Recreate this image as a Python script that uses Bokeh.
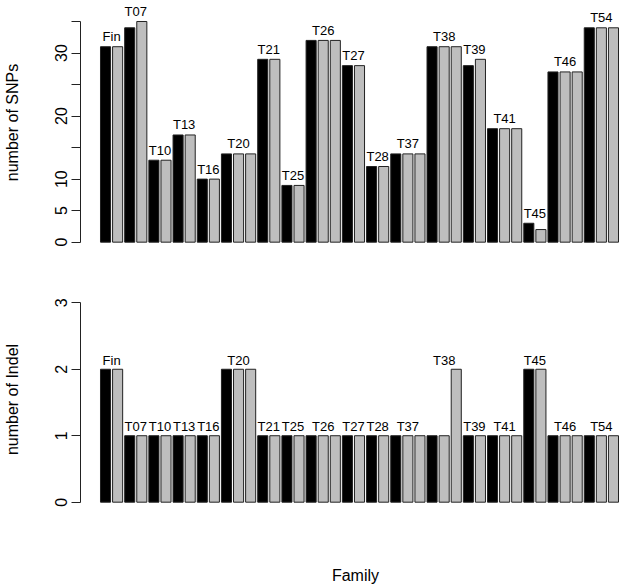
import math
from bokeh.plotting import figure
from bokeh.models import ColumnDataSource, FixedTicker, LinearAxis
from bokeh.layouts import column
from bokeh.embed import file_html
from bokeh.resources import INLINE
from bokeh.core.properties import value

# ---- data -----------------------------------------------------------------
families = ["Fin", "T07", "T10", "T13", "T16", "T20", "T21", "T25", "T26",
            "T27", "T28", "T37", "T38", "T39", "T41", "T45", "T46", "T54"]

snp_counts = [[31, 31], [34, 35], [13, 13], [17, 17], [10, 10], [14, 14, 14],
              [29, 29], [9, 9], [32, 32, 32], [28, 28], [12, 12], [14, 14, 14],
              [31, 31, 31], [28, 29], [18, 18, 18], [3, 2], [27, 27, 27],
              [34, 34, 34]]

indel_counts = [[2, 2], [1, 1], [1, 1], [1, 1], [1, 1], [2, 2, 2],
                [1, 1], [1, 1], [1, 1, 1], [1, 1], [1, 1], [1, 1, 1],
                [1, 1, 2], [1, 1], [1, 1, 1], [2, 2], [1, 1, 1],
                [1, 1, 1]]

snp_ticks = [0, 5, 10, 15, 20, 25, 30, 35]
snp_tick_labels = ["0", "5", "10", "", "20", "", "30", ""]
indel_ticks = [0, 1, 2, 3]
indel_tick_labels = ["0", "1", "2", "3"]

snp_title = "number of SNPs"
indel_title = "number of Indel"
x_title = "Family"

# ---- styling --------------------------------------------------------------
FONT = "Liberation Sans"
BAR_W = 1.0
SPACE = 0.2
BLACK = "#000000"
GREY = "#BEBEBE"
W = 630
X_RANGE = (-1.7845, 52.79)


def bar_tables(counts):
    xs, tops, fills = [], [], []
    lx, ly, lt = [], [], []
    i = 0
    for fam, vals in zip(families, counts):
        start = len(xs)
        for j, v in enumerate(vals):
            xs.append(SPACE + i * (BAR_W + SPACE) + BAR_W / 2)
            tops.append(v)
            fills.append(BLACK if j == 0 else GREY)
            i += 1
        lx.append((xs[start] + xs[-1]) / 2)
        ly.append(max(vals))
        lt.append(fam)
    bars = ColumnDataSource(dict(x=xs, top=tops, fill=fills))
    labels = ColumnDataSource(dict(x=lx, y=ly, text=lt))
    return bars, labels


def panel(counts, ticks, tick_labels, y_range, height, border_bottom,
          y_title, label_gap):
    p = figure(width=W, height=height, x_range=X_RANGE, y_range=y_range,
               output_backend="svg", toolbar_location=None,
               x_axis_location=None, min_border_left=80, min_border_right=0,
               min_border_top=0, min_border_bottom=border_bottom)
    p.outline_line_color = None
    p.grid.visible = False
    p.background_fill_color = "white"
    p.border_fill_color = "white"

    bars, labels = bar_tables(counts)
    p.vbar(x="x", top="top", bottom=0, width=BAR_W, source=bars,
           fill_color="fill", line_color="#222222", line_width=1)
    p.text(x="x", y="y", text="text", source=labels,
           text_font=value(FONT), text_font_size="13px",
           text_align="center", text_baseline="alphabetic",
           y_offset=label_gap, text_color="black")

    ax = p.yaxis[0]
    ax.ticker = FixedTicker(ticks=ticks)
    ax.bounds = (ticks[0], ticks[-1])
    ax.major_label_overrides = {t: l for t, l in zip(ticks, tick_labels)}
    ax.major_label_orientation = "parallel"
    ax.major_tick_in = 0
    ax.major_tick_out = 9
    ax.minor_tick_in = 0
    ax.minor_tick_out = 0
    ax.major_label_standoff = 4
    ax.major_label_text_font = FONT
    ax.major_label_text_font_size = "16px"
    ax.major_label_text_color = "black"
    ax.axis_line_color = "#222222"
    ax.major_tick_line_color = "#222222"
    ax.axis_label = y_title
    ax.axis_label_text_font = FONT
    ax.axis_label_text_font_size = "16px"
    ax.axis_label_text_font_style = "normal"
    ax.axis_label_text_color = "black"
    ax.axis_label_standoff = 32
    return p


top = panel(snp_counts, snp_ticks, snp_tick_labels, (-0.37, 38.33), 270, 26,
            snp_title, -10)
bottom = panel(indel_counts, indel_ticks, indel_tick_labels, (-0.396, 3.486),
               318, 60, indel_title, -9)

xax = LinearAxis(ticker=FixedTicker(ticks=[]), axis_label=x_title)
xax.axis_line_color = None
xax.major_tick_line_color = None
xax.minor_tick_line_color = None
xax.major_label_text_font_size = "0px"
xax.axis_label_text_font = FONT
xax.axis_label_text_font_size = "16px"
xax.axis_label_text_font_style = "normal"
xax.axis_label_text_color = "black"
xax.axis_label_standoff = 38
bottom.add_layout(xax, "below")

layout = column(top, bottom, spacing=0)
open("out.html", "w").write(file_html(layout, INLINE))
